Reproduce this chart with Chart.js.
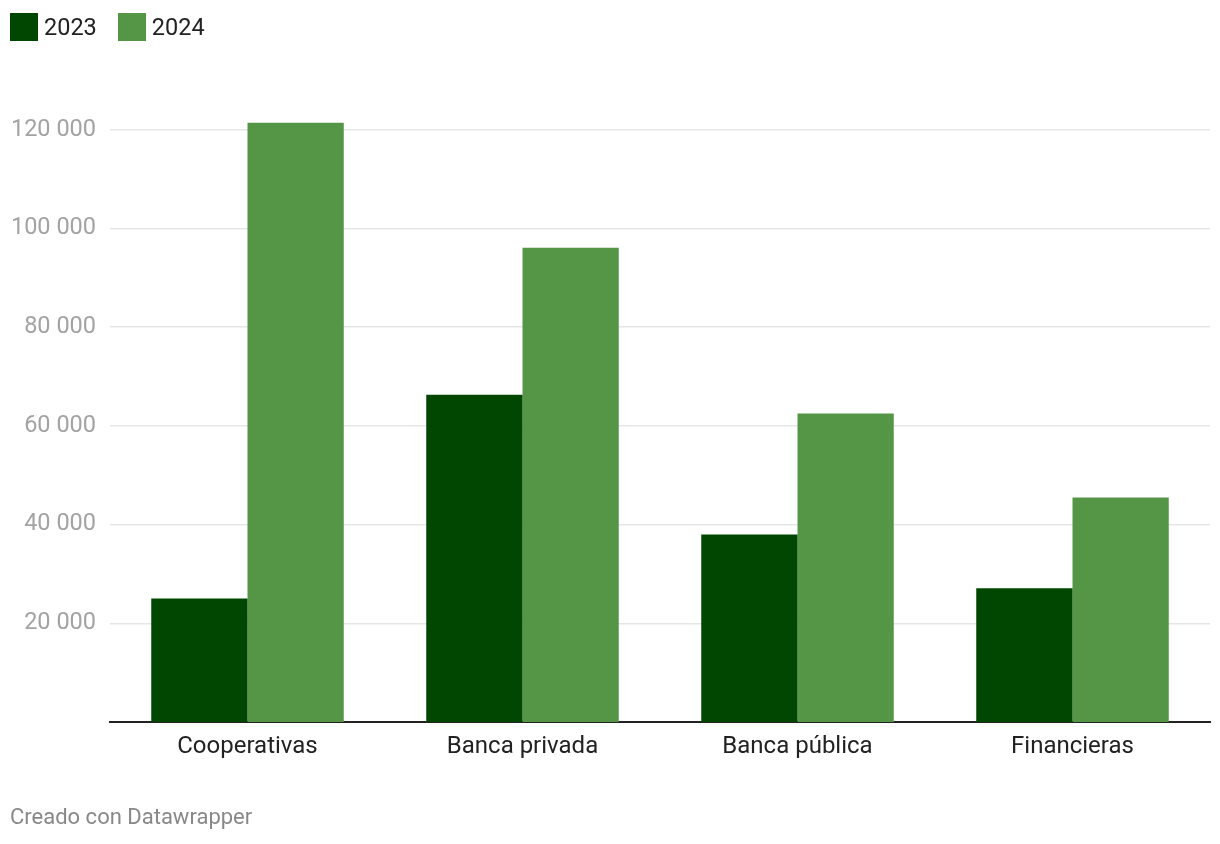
<!DOCTYPE html>
<html>
<head>
<meta charset="utf-8">
<script src="https://cdn.jsdelivr.net/npm/chart.js@4"></script>
<style>
  body { margin: 0; background: #fff; font-family: Roboto, sans-serif; }
  #wrap { position: relative; width: 1220px; height: 844px; }
  .legend { position: absolute; top: 13px; left: 10px; display: flex; align-items: center; font-size: 23.5px; color: #222; }
  .legend span.box { width: 28px; height: 28px; display: inline-block; margin-right: 6px; }
  .legend .item { display: flex; align-items: center; margin-right: 21px; }
  .footer { position: absolute; left: 10px; top: 804px; font-size: 22px; color: #888; }
</style>
</head>
<body>
<div id="wrap">
  <canvas id="myChart" width="1220" height="844"></canvas>
  <div class="legend" id="legend"></div>
  <div class="footer">Creado con Datawrapper</div>
</div>
<script>
const categories = ["Cooperativas", "Banca privada", "Banca pública", "Financieras"];
const seriesNames = ["2023", "2024"];
const values2023 = [25000, 66300, 38000, 27100];
const values2024 = [121400, 96100, 62500, 45500];
const yTicks = [20000, 40000, 60000, 80000, 100000, 120000];
const colors = ["#014701", "#559546"];

// legend in html
const legend = document.getElementById('legend');
seriesNames.forEach((name, i) => {
  legend.innerHTML += `<div class="item"><span class="box" style="background:${colors[i]}"></span>${name}</div>`;
});

var ctx = document.getElementById('myChart').getContext('2d');
var myChart = new Chart(ctx, {
  type: 'bar',
  data: {
    labels: categories,
    datasets: [{
      label: seriesNames[0],
      data: values2023,
      backgroundColor: colors[0],
    }, {
      label: seriesNames[1],
      data: values2024,
      backgroundColor: colors[1],
    }]
  },
  options: {
    responsive: false,
    animation: false,
    layout: { padding: { top: 105, right: 10, left: 0, bottom: 0 } },
    categoryPercentage: 0.7,
    barPercentage: 1.0,
    plugins: { legend: { display: false }, tooltip: { enabled: false } },
    scales: {
      x: {
        grid: { color: 'rgba(0,0,0,0)', drawTicks: false },
        border: { color: '#222', width: 2 },
        ticks: { color: '#222', font: { family: 'Roboto', size: 24 }, padding: 11 },
        afterFit: (axis) => { axis.height = 122; }
      },
      y: {
        min: 0,
        max: 125000,
        border: { display: false },
        grid: { color: '#e6e6e6', lineWidth: 1.5, drawTicks: false },
        ticks: {
          color: '#a3a3a3',
          font: { family: 'Roboto', size: 23.5 },
          padding: 14,
          callback: (v) => v.toLocaleString('en-US').replace(/,/g, ' ')
        },
        afterBuildTicks: (axis) => { axis.ticks = yTicks.map(v => ({ value: v })); },
        afterFit: (axis) => { axis.width = 110; }
      }
    }
  }
});
</script>
</body>
</html>
